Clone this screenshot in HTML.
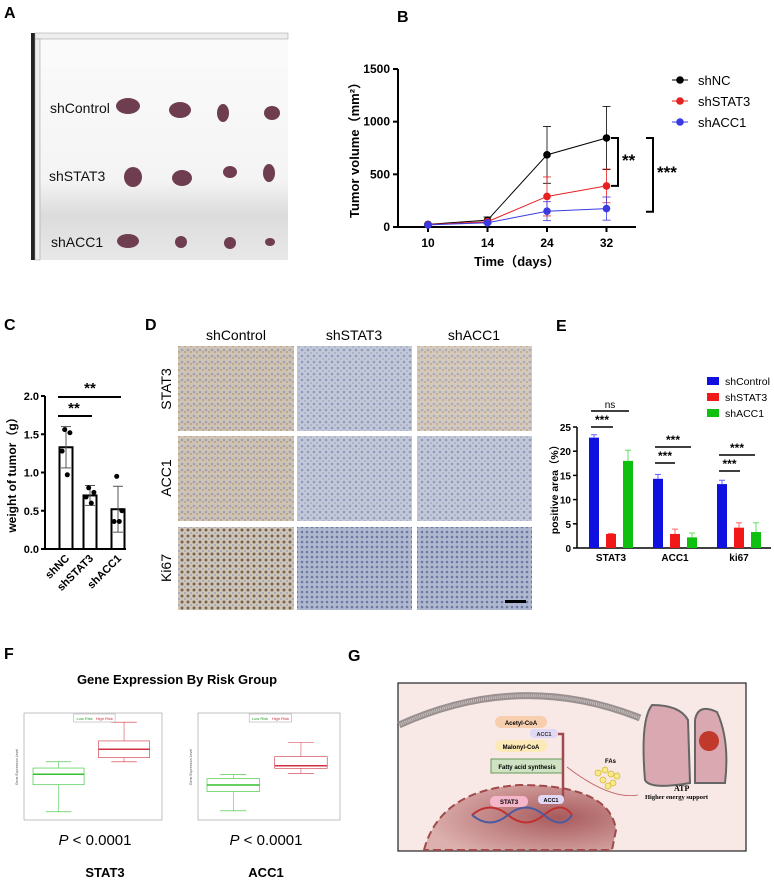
<!DOCTYPE html>
<html><head><meta charset="utf-8"><style>
body{margin:0;background:#fff;width:774px;height:883px;overflow:hidden;font-family:"Liberation Sans",Arial,sans-serif}
svg{position:absolute;left:0;top:0}
</style></head><body>
<svg id="s" width="774" height="883" viewBox="0 0 774 883" font-family="Liberation Sans, Arial, sans-serif">
<defs>
<linearGradient id="photo" x1="0" y1="0" x2="0" y2="1"><stop offset="0" stop-color="#fbfbfb"/><stop offset="0.65" stop-color="#f4f4f4"/><stop offset="0.8" stop-color="#dcdcdc"/><stop offset="1" stop-color="#e8e8e8"/></linearGradient>
<radialGradient id="nuc" cx="0.7" cy="0.5" r="0.7"><stop offset="0" stop-color="#a85a5c"/><stop offset="1" stop-color="#dcb0ae"/></radialGradient>
<pattern id="ihcB" width="6" height="6" patternUnits="userSpaceOnUse"><rect width="6" height="6" fill="#c3c8d8"/><circle cx="2" cy="2" r="1.3" fill="#8e9bbd"/><circle cx="5" cy="5" r="1" fill="#a6aec6"/></pattern>
<pattern id="ihcT" width="6" height="6" patternUnits="userSpaceOnUse"><rect width="6" height="6" fill="#cfc3b3"/><circle cx="2" cy="2" r="1.3" fill="#9ea0b8"/><circle cx="5" cy="4" r="1" fill="#b79d80"/></pattern>
<pattern id="ihcK" width="6" height="6" patternUnits="userSpaceOnUse"><rect width="6" height="6" fill="#cfc6b8"/><circle cx="2" cy="2" r="1.5" fill="#7a6450"/><circle cx="5" cy="5" r="1" fill="#a0a4bc"/></pattern>
<pattern id="ihcD" width="5" height="5" patternUnits="userSpaceOnUse"><rect width="5" height="5" fill="#b0b8cf"/><circle cx="2" cy="2" r="1.3" fill="#6c7aa3"/></pattern>
</defs>

<g font-weight="bold" font-size="16">
<text x="4" y="18">A</text><text x="397" y="22">B</text><text x="4" y="330">C</text><text x="145" y="330">D</text><text x="556" y="331">E</text><text x="4" y="659">F</text><text x="348" y="661">G</text>
</g>

<g>
<rect x="31" y="33" width="257" height="227" fill="url(#photo)"/>
<rect x="31" y="33" width="4" height="227" fill="#222"/>
<rect x="35" y="33" width="253" height="6" fill="#eee" stroke="#999" stroke-width="0.5"/>
<rect x="35" y="39" width="5" height="221" fill="#eee" stroke="#999" stroke-width="0.5"/>
<g font-size="14" fill="#111"><text x="50" y="113">shControl</text><text x="49" y="181">shSTAT3</text><text x="51" y="247">shACC1</text></g>
<g fill="#6e3d50">
<ellipse cx="128" cy="106" rx="12" ry="8"/><ellipse cx="180" cy="110" rx="11" ry="8"/><ellipse cx="223" cy="113" rx="6" ry="9"/><ellipse cx="272" cy="113" rx="8" ry="7"/>
<ellipse cx="133" cy="177" rx="9" ry="10"/><ellipse cx="182" cy="178" rx="10" ry="8"/><ellipse cx="230" cy="172" rx="7" ry="6"/><ellipse cx="269" cy="173" rx="6" ry="9"/>
<ellipse cx="128" cy="241" rx="11" ry="7"/><ellipse cx="181" cy="242" rx="6" ry="6"/><ellipse cx="230" cy="243" rx="6" ry="6"/><ellipse cx="270" cy="242" rx="5" ry="4"/>
</g></g>

<g id="pB"></g>
<g id="pC"></g>

<g>
<g font-size="14" text-anchor="middle"><text x="236" y="340">shControl</text><text x="354" y="340">shSTAT3</text><text x="474" y="340">shACC1</text></g>
<g font-size="14" text-anchor="middle"><text transform="translate(171,389) rotate(-90)">STAT3</text><text transform="translate(171,478) rotate(-90)">ACC1</text><text transform="translate(171,568) rotate(-90)">Ki67</text></g>
<rect x="178" y="346" width="116" height="85" fill="url(#ihcT)"/><rect x="297" y="346" width="115" height="85" fill="url(#ihcB)"/><rect x="417" y="346" width="115" height="85" fill="url(#ihcT)" opacity="0.9"/>
<rect x="178" y="436" width="116" height="85" fill="url(#ihcT)"/><rect x="297" y="436" width="115" height="85" fill="url(#ihcB)"/><rect x="417" y="436" width="115" height="85" fill="url(#ihcB)"/>
<rect x="178" y="527" width="116" height="83" fill="url(#ihcK)"/><rect x="297" y="527" width="115" height="83" fill="url(#ihcD)"/><rect x="417" y="527" width="115" height="83" fill="url(#ihcD)"/>
<rect x="505" y="600" width="21" height="3" fill="#000"/>
</g>

<g id="pE"></g>

<g id="pF">
<text x="177" y="684" font-size="13" font-weight="bold" text-anchor="middle">Gene Expression By Risk Group</text>
<g font-size="15" text-anchor="middle"><text x="95" y="845"><tspan font-style="italic">P</tspan> &lt; 0.0001</text><text x="266" y="845"><tspan font-style="italic">P</tspan> &lt; 0.0001</text></g>
<g font-size="13" font-weight="bold" text-anchor="middle"><text x="105" y="877">STAT3</text><text x="266" y="877">ACC1</text></g>
</g>

<g>
<rect x="398" y="683" width="348" height="168" fill="#f8e9e6" stroke="#222" stroke-width="1.2"/>
<path d="M399,725 Q520,670 640,718" fill="none" stroke="#9a9090" stroke-width="7"/>
<path d="M399,725 Q520,670 640,718" fill="none" stroke="#c8c0c0" stroke-width="3" stroke-dasharray="1 1"/>
<path d="M424,850 Q440,790 520,785 Q610,785 616,830 L612,850 Z" fill="url(#nuc)" stroke="#a04a4a" stroke-width="2" stroke-dasharray="8 4"/>
<rect x="495" y="716" width="52" height="12" rx="6" fill="#f8cfae"/><text x="521" y="725" font-size="6" font-weight="bold" text-anchor="middle">Acetyl-CoA</text>
<rect x="530" y="729" width="28" height="9" rx="4" fill="#e0d8f4"/><text x="544" y="736" font-size="5.5" font-weight="bold" text-anchor="middle" fill="#333">ACC1</text>
<rect x="495" y="740" width="52" height="12" rx="6" fill="#fbeab8"/><text x="521" y="749" font-size="6" font-weight="bold" text-anchor="middle">Malonyl-CoA</text>
<rect x="491" y="759" width="72" height="14" fill="#cfe3c4" stroke="#6a9a5a"/><text x="527" y="769" font-size="6" font-weight="bold" text-anchor="middle">Fatty acid synthesis</text>
<path d="M563,800 L563,734 L558,734" fill="none" stroke="#a04a50" stroke-width="2.5"/>
<text x="605" y="763" font-size="6" font-weight="bold">FAs</text>
<g fill="#f7ea8a" stroke="#d4b630" stroke-width="0.7"><circle cx="598" cy="773" r="3"/><circle cx="605" cy="770" r="3"/><circle cx="611" cy="774" r="3"/><circle cx="603" cy="780" r="3"/><circle cx="613" cy="783" r="3"/><circle cx="608" cy="786" r="3"/><circle cx="617" cy="776" r="3"/></g>
<path d="M567,767 Q610,800 638,795" fill="none" stroke="#c06060" stroke-width="0.8"/>
<rect x="490" y="796" width="38" height="11" rx="5" fill="#f4b6c8"/><text x="509" y="804" font-size="6" font-weight="bold" text-anchor="middle">STAT3</text>
<rect x="538" y="795" width="26" height="9" rx="4" fill="#e0d8f4"/><text x="551" y="802" font-size="5.5" font-weight="bold" text-anchor="middle">ACC1</text>
<path d="M472,815 Q490,800 508,815 T544,815 T572,815" fill="none" stroke="#c03030" stroke-width="2"/>
<path d="M472,815 Q490,830 508,815 T544,815 T572,815" fill="none" stroke="#4a5aa0" stroke-width="2"/>
<path d="M652,705 Q640,720 645,780 Q650,790 690,783 L688,720 Q680,705 652,705 Z" fill="#d9a8b0" stroke="#666" stroke-width="2"/>
<path d="M695,720 Q698,703 717,712 Q730,740 725,783 L695,783 Z" fill="#d9a8b0" stroke="#666" stroke-width="2"/>
<circle cx="709" cy="741" r="10" fill="#c0392b"/>
<text x="674" y="791" font-size="8" font-family="Liberation Serif, serif" font-weight="bold">ATP</text><text x="645" y="799" font-size="6.5" font-family="Liberation Serif, serif" font-weight="bold">Higher energy support</text>
</g>
</svg>
<script>
const NS='http://www.w3.org/2000/svg';
function mk(p,t,a){const e=document.createElementNS(NS,t);for(const k in a)e.setAttribute(k,a[k]);p.appendChild(e);return e;}
function tx(p,x,y,s,a){const e=mk(p,'text',Object.assign({x:x,y:y},a||{}));e.textContent=s;return e;}

const bDays=['10','14','24','32'];
const bSeries=['shNC','shSTAT3','shACC1'];
const bNC=[25,65,685,845];
const bNCerr=[5,30,270,300];
const bSTAT3=[22,50,290,390];
const bSTAT3err=[5,15,185,160];
const bACC1=[20,40,150,175];
const bACC1err=[5,10,90,110];
const bTicks=[0,500,1000,1500];
(function(){
 const g=document.getElementById('pB');
 const x0=398,x1=636,y0=227,ymax=1500,yt=69;
 const xs=i=>428+i*59.5, ys=v=>y0-(v/ymax)*(y0-yt);
 mk(g,'line',{x1:x0,y1:yt,x2:x0,y2:y0,stroke:'#000','stroke-width':2});
 mk(g,'line',{x1:x0,y1:y0,x2:x1,y2:y0,stroke:'#000','stroke-width':2});
 bTicks.forEach(t=>{mk(g,'line',{x1:x0-5,y1:ys(t),x2:x0,y2:ys(t),stroke:'#000','stroke-width':2});
  const l=tx(g,x0-8,ys(t)+4,String(t),{'font-size':12,'font-weight':'bold','text-anchor':'end'});
  
  });
 bDays.forEach((d,i)=>{mk(g,'line',{x1:xs(i),y1:y0,x2:xs(i),y2:y0+5,stroke:'#000','stroke-width':2});
  const l=tx(g,xs(i),y0+20,d,{'font-size':12,'font-weight':'bold','text-anchor':'middle'});
  
  });
 const yl=tx(g,0,0,'Tumor volume（mm²）',{'font-size':13,'font-weight':'bold','text-anchor':'middle',transform:'translate(359,147) rotate(-90)','font-family':'Liberation Sans, Noto Sans CJK SC, sans-serif'});
 
 
 const xl=tx(g,517,266,'Time（days）',{'font-size':13,'font-weight':'bold','text-anchor':'middle','font-family':'Liberation Sans, Noto Sans CJK SC, sans-serif'});
 
 
 const cols=['#000','#e82020','#3a3ae0'];
 [[bNC,bNCerr],[bSTAT3,bSTAT3err],[bACC1,bACC1err]].forEach((s,k)=>{
  const [v,e]=s;
  v.forEach((val,i)=>{mk(g,'line',{x1:xs(i),y1:ys(val+e[i]),x2:xs(i),y2:ys(Math.max(0,val-e[i])),stroke:cols[k],'stroke-width':0.8});
   [val+e[i],Math.max(0,val-e[i])].forEach(q=>mk(g,'line',{x1:xs(i)-4,y1:ys(q),x2:xs(i)+4,y2:ys(q),stroke:cols[k],'stroke-width':0.8}));});
  const ln=mk(g,'polyline',{points:v.map((val,i)=>xs(i)+','+ys(val)).join(' '),fill:'none',stroke:cols[k],'stroke-width':1});
  
  
  v.forEach((val,i)=>{const c=mk(g,'circle',{cx:xs(i),cy:ys(val),r:3.8,fill:cols[k]});
   
   });
  mk(g,'line',{x1:672,y1:80+k*21,x2:688,y2:80+k*21,stroke:cols[k],'stroke-width':1});
  mk(g,'circle',{cx:680,cy:80+k*21,r:3.8,fill:cols[k]});
  const le=tx(g,698,85+k*21,bSeries[k],{'font-size':13});
  
  
 });
 const br=(xa,ya,yb)=>mk(g,'path',{d:`M${xa-7},${ya} H${xa} V${yb} H${xa-7}`,fill:'none',stroke:'#000','stroke-width':2});
 br(618,ys(845),ys(390)); tx(g,622,166,'**',{'font-size':17,'font-weight':'bold'});
 br(653,ys(845),ys(145)); tx(g,657,178,'***',{'font-size':17,'font-weight':'bold'});
})();

const cGroups=['shNC','shSTAT3','shACC1'];
const cMeans=[1.33,0.70,0.52];
const cSD=[0.27,0.13,0.30];
const cPts=[[1.56,1.52,1.28,0.97],[0.80,0.74,0.68,0.60],[0.95,0.50,0.36,0.36]];
const cTicks=[0,0.5,1.0,1.5,2.0];
(function(){
 const g=document.getElementById('pC');
 const x0=45,y0=549,yt=396;const ys=v=>y0-v/2*(y0-yt);const xs=[66,90,118];
 mk(g,'line',{x1:x0,y1:yt,x2:x0,y2:y0,stroke:'#000','stroke-width':2});
 mk(g,'line',{x1:x0,y1:y0,x2:126,y2:y0,stroke:'#000','stroke-width':2});
 cTicks.forEach(t=>{mk(g,'line',{x1:x0-4,y1:ys(t),x2:x0,y2:ys(t),stroke:'#000','stroke-width':2});
  const l=tx(g,x0-6,ys(t)+4,t.toFixed(1),{'font-size':11,'font-weight':'bold','text-anchor':'end'});
  
  });
 const yl=tx(g,0,0,'weight of tumor（g）',{'font-size':12,'font-weight':'bold','text-anchor':'middle',transform:'translate(16,472) rotate(-90)','font-family':'Liberation Sans, Noto Sans CJK SC, sans-serif'});
 
 
 cGroups.forEach((n,i)=>{
  const b=mk(g,'rect',{x:xs[i]-6.5,y:ys(cMeans[i]),width:13,height:y0-ys(cMeans[i]),fill:'#fff',stroke:'#000','stroke-width':2});
  
  
  mk(g,'line',{x1:xs[i],y1:ys(cMeans[i]+cSD[i]),x2:xs[i],y2:ys(cMeans[i]-cSD[i]),stroke:'#555','stroke-width':1});
  [cMeans[i]+cSD[i],cMeans[i]-cSD[i]].forEach(q=>mk(g,'line',{x1:xs[i]-5,y1:ys(q),x2:xs[i]+5,y2:ys(q),stroke:'#555','stroke-width':1}));
  cPts[i].forEach((p,j)=>mk(g,'circle',{cx:xs[i]+[-1,3,-3,1][j]*1.3,cy:ys(p),r:2.5,fill:'#000'}));
  const l=tx(g,0,0,n,{'font-size':11,'font-weight':'bold','text-anchor':'end',transform:`translate(${xs[i]+4},${y0+10}) rotate(-45)`});
  
  
 });
 mk(g,'line',{x1:58,y1:416,x2:92,y2:416,stroke:'#000','stroke-width':2});tx(g,74,413,'**',{'font-size':15,'font-weight':'bold','text-anchor':'middle'});
 mk(g,'line',{x1:58,y1:397,x2:121,y2:397,stroke:'#000','stroke-width':2});tx(g,90,393,'**',{'font-size':15,'font-weight':'bold','text-anchor':'middle'});
})();

const eCats=['STAT3','ACC1','ki67'];
const eSeries=['shControl','shSTAT3','shACC1'];
const eControl=[22.8,14.3,13.2];
const eControlErr=[0.6,0.9,0.8];
const eSTAT3=[2.9,2.9,4.2];
const eSTAT3Err=[0.1,1.0,1.0];
const eACC1=[18.0,2.2,3.3];
const eACC1Err=[2.2,0.9,1.9];
const eTicks=[0,5,10,15,20,25];
(function(){
 const g=document.getElementById('pE');
 const x0=577,y0=548,yt=427;const ys=v=>y0-v/25*(y0-yt);
 const gx=i=>611+i*64, off=[-17,0,17];
 mk(g,'line',{x1:x0,y1:yt,x2:x0,y2:y0,stroke:'#000','stroke-width':1.5});
 mk(g,'line',{x1:x0,y1:y0,x2:771,y2:y0,stroke:'#000','stroke-width':1.5});
 eTicks.forEach(t=>{mk(g,'line',{x1:x0-4,y1:ys(t),x2:x0,y2:ys(t),stroke:'#000','stroke-width':1.5});
  const l=tx(g,x0-6,ys(t)+4,String(t),{'font-size':10,'font-weight':'bold','text-anchor':'end'});
  
  });
 const yl=tx(g,0,0,'positive area（%）',{'font-size':10.5,'font-weight':'bold','text-anchor':'middle',transform:'translate(558,487) rotate(-90)','font-family':'Liberation Sans, Noto Sans CJK SC, sans-serif'});
 
 
 const cols=['#1010e0','#f01818','#10c010'];
 const ecol=['#6060ff','#ff6060','#60e060'];
 [[eControl,eControlErr],[eSTAT3,eSTAT3Err],[eACC1,eACC1Err]].forEach((s,k)=>{
  s[0].forEach((v,i)=>{const cx=gx(i)+off[k];
   mk(g,'line',{x1:cx,y1:ys(v),x2:cx,y2:ys(v+s[1][i]),stroke:ecol[k],'stroke-width':1});
   mk(g,'line',{x1:cx-3,y1:ys(v+s[1][i]),x2:cx+3,y2:ys(v+s[1][i]),stroke:ecol[k],'stroke-width':1});
   const b=mk(g,'rect',{x:cx-5,y:ys(v),width:10,height:y0-ys(v),fill:cols[k]});
   
   });
  mk(g,'rect',{x:707,y:377+k*16,width:12,height:8,fill:cols[k]});
  const le=tx(g,725,385+k*16,eSeries[k],{'font-size':10.5});
  
  
 });
 eCats.forEach((c,i)=>{const l=tx(g,gx(i),561,c,{'font-size':10,'font-weight':'bold','text-anchor':'middle'});
  
  });
 const sig=(xa,xb,y,s)=>{mk(g,'line',{x1:xa,y1:y,x2:xb,y2:y,stroke:'#000','stroke-width':1.5});tx(g,(xa+xb)/2,y-3,s,{'font-size':s=='ns'?10:12,'font-weight':s=='ns'?'normal':'bold','text-anchor':'middle'});};
 sig(591,613,427,'***');sig(591,629,411,'ns');
 sig(655,675,463,'***');sig(655,691,447,'***');
 sig(719,740,471,'***');sig(719,755,455,'***');
})();

const fGroups=['Low Risk','High Risk'];
const fStat3Low=[-0.8,-0.15,0.1,0.25,0.4];
const fStat3High=[0.4,0.5,0.7,0.9,1.35];
const fAcc1Low=[4.6,5.35,5.6,5.85,6.0];
const fAcc1High=[6.05,6.25,6.35,6.7,7.25];
(function(){
 const g=document.getElementById('pF');
 const plot=(fx,fw,lo,hi,a,b)=>{
  mk(g,'rect',{x:fx,y:713,width:fw,height:107,fill:'#fff',stroke:'#999','stroke-width':0.6});
  const ys=v=>816-(v-lo)/(hi-lo)*98;
  [[a,'#30c030',fx+9],[b,'#d03040',fx+fw*0.54]].forEach(([d,c,bx])=>{
   const w=fw*0.37,m=bx+w/2;
   mk(g,'line',{x1:m,y1:ys(d[0]),x2:m,y2:ys(d[4]),stroke:c,'stroke-width':0.5});
   mk(g,'line',{x1:m-w/4,y1:ys(d[0]),x2:m+w/4,y2:ys(d[0]),stroke:c,'stroke-width':0.6});
   mk(g,'line',{x1:m-w/4,y1:ys(d[4]),x2:m+w/4,y2:ys(d[4]),stroke:c,'stroke-width':0.6});
   const r=mk(g,'rect',{x:bx,y:ys(d[3]),width:w,height:ys(d[1])-ys(d[3]),fill:'#fff',stroke:c,'stroke-width':0.6});
   
   
   mk(g,'line',{x1:bx,y1:ys(d[2]),x2:bx+w,y2:ys(d[2]),stroke:c,'stroke-width':1.5});
  });
  mk(g,'rect',{x:fx+fw*0.36,y:714,width:fw*0.3,height:8,fill:'#fff',stroke:'#888','stroke-width':0.4});
  tx(g,fx+fw*0.38,720,'Low Risk',{'font-size':4,fill:'#30a030'});tx(g,fx+fw*0.52,720,'High Risk',{'font-size':4,fill:'#d03040'});
  tx(g,0,0,'Gene Expression Level',{'font-size':3.5,'text-anchor':'middle',transform:`translate(${fx-6},767) rotate(-90)`,fill:'#555'});
 };
 plot(24,138,-0.9,1.45,fStat3Low,fStat3High);
 plot(198,142,4.4,8.2,fAcc1Low,fAcc1High);
})();
</script>
</body></html>
